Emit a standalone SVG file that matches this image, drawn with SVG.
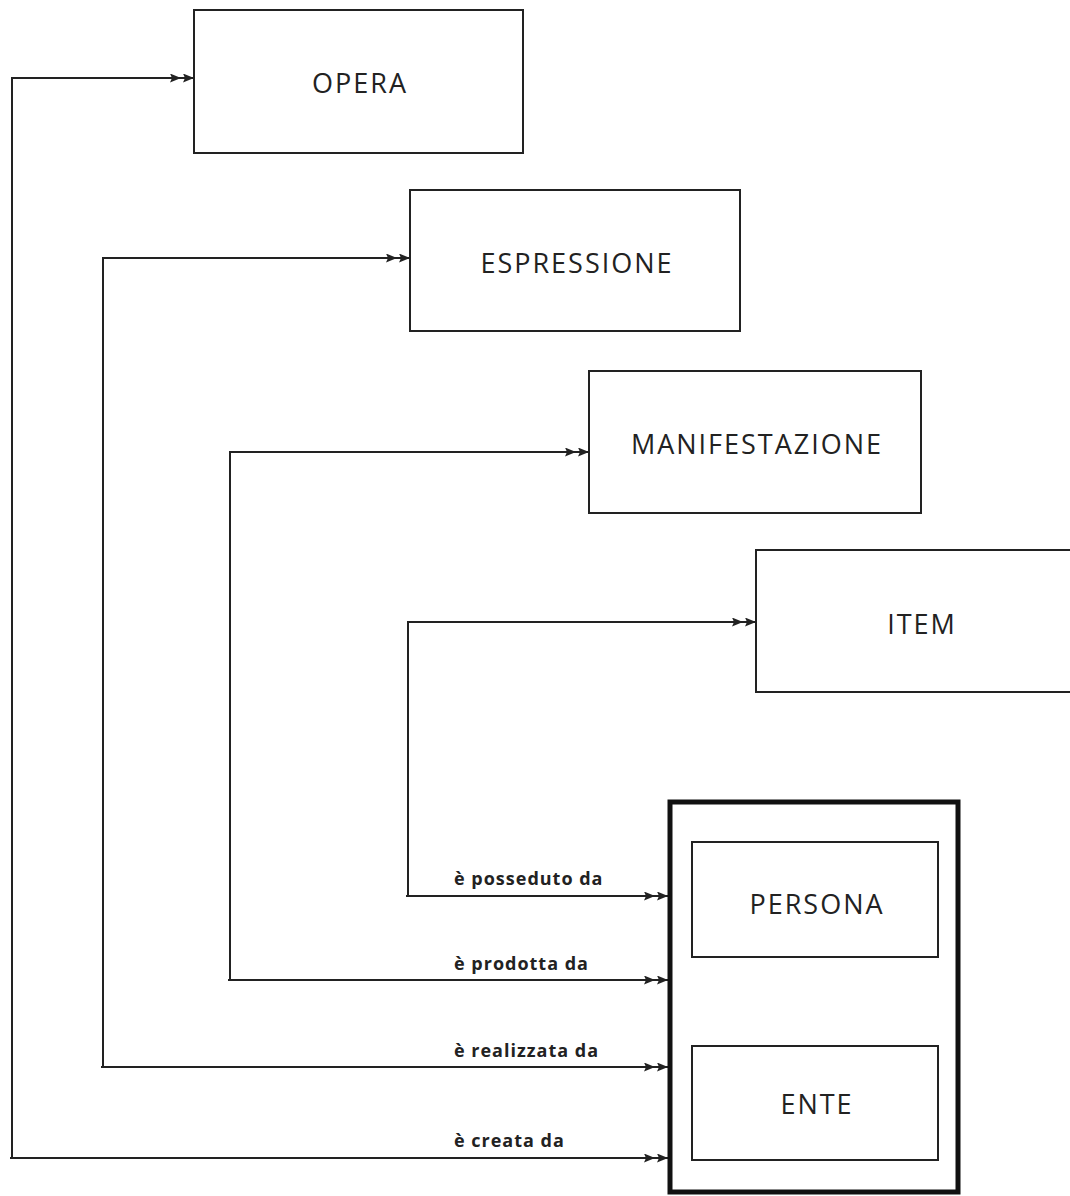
<svg xmlns="http://www.w3.org/2000/svg" width="1070" height="1196" viewBox="0 0 1070 1196">
<style>
.box{fill:#fff;stroke:#222;stroke-width:2}
.outer{fill:#fff;stroke:#111;stroke-width:5}
.lbl{font-family:"Open Sans","Noto Sans",sans-serif;font-size:27px;letter-spacing:2px;fill:#222;text-anchor:middle}
.rel{font-family:"Open Sans","Noto Sans",sans-serif;font-size:18px;font-weight:bold;letter-spacing:1px;fill:#222}
.con{fill:none;stroke:#222;stroke-width:2;marker-end:url(#dbl)}
</style>
<defs>
<marker id="dbl" markerUnits="userSpaceOnUse" viewBox="0 0 24 9" refX="24" refY="4.5" markerWidth="24" markerHeight="9" orient="auto">
<path d="M0,0 L11,4.5 L0,9 L2,4.5 Z M13,0 L24,4.5 L13,9 L15,4.5 Z" fill="#222"/>
</marker>
</defs>
<rect width="1070" height="1196" fill="#fff"/>
<g id="connectors">
<path class="con" d="M12,1158 L12,78 L194,78"/>
<path class="con" d="M10,1158 L668,1158"/>
<path class="con" d="M103,1067 L103,258 L410,258"/>
<path class="con" d="M101,1067 L668,1067"/>
<path class="con" d="M230,980 L230,452 L589,452"/>
<path class="con" d="M228,980 L668,980"/>
<path class="con" d="M408,896 L408,622 L756,622"/>
<path class="con" d="M406,896 L668,896"/>
<text class="rel" x="454" y="885">è posseduto da</text>
<text class="rel" x="454" y="970">è prodotta da</text>
<text class="rel" x="454" y="1057">è realizzata da</text>
<text class="rel" x="454" y="1147">è creata da</text>
</g>
<g id="opera"><rect class="box" x="194" y="10" width="329" height="143"/><text class="lbl" x="360" y="93">OPERA</text></g>
<g id="espressione"><rect class="box" x="410" y="190" width="330" height="141"/><text class="lbl" x="577" y="273">ESPRESSIONE</text></g>
<g id="manifestazione"><rect class="box" x="589" y="371" width="332" height="142"/><text class="lbl" x="757" y="454">MANIFESTAZIONE</text></g>
<g id="item"><rect class="box" x="756" y="550" width="330" height="142"/><text class="lbl" x="922" y="634">ITEM</text></g>
<g id="agenti"><rect class="outer" x="670" y="802" width="288" height="390"/></g>
<g id="persona"><rect class="box" x="692" y="842" width="246" height="115"/><text class="lbl" x="817" y="914">PERSONA</text></g>
<g id="ente"><rect class="box" x="692" y="1046" width="246" height="114"/><text class="lbl" x="817" y="1114">ENTE</text></g>
</svg>
